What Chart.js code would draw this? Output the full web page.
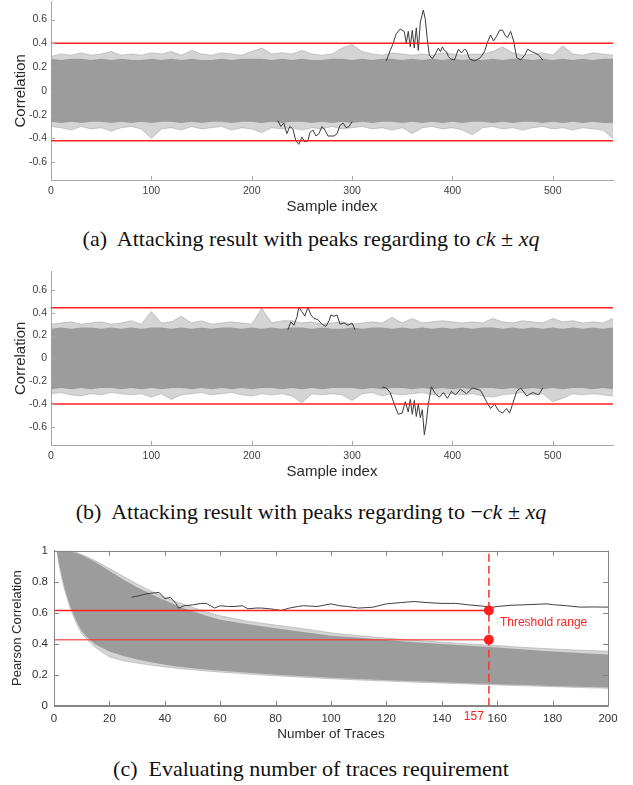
<!DOCTYPE html>
<html>
<head>
<meta charset="utf-8">
<script src="https://cdn.jsdelivr.net/npm/chart.js@4.4.1/dist/chart.umd.min.js"></script>
<style>
  html, body { margin: 0; padding: 0; background: #fff; }
  body { position: relative; width: 633px; height: 785px; overflow: hidden; }
  canvas { position: absolute; left: 0; }
  .cap {
    position: absolute; left: 0; width: 622px; text-align: center;
    font-family: "Liberation Serif", "Times New Roman", serif; font-size: 22px;
    line-height: 24px; color: #111; white-space: nowrap;
  }
</style>
</head>
<body>
<canvas id="chart-a" width="633" height="225" style="top:0"></canvas>
<div class="cap" style="top:227px">(a)&nbsp; Attacking result with peaks regarding to <i>ck</i> ± <i>xq</i></div>
<canvas id="chart-b" width="633" height="225" style="top:265px"></canvas>
<div class="cap" style="top:500px">(b)&nbsp; Attacking result with peaks regarding to −<i>ck</i> ± <i>xq</i></div>
<canvas id="chart-c" width="633" height="225" style="top:530px"></canvas>
<div class="cap" style="top:757px">(c)&nbsp; Evaluating number of traces requirement</div>

<script>
// ---- (a) / (b): correlation over sample index ----
const sampleX = [0, 10, 20, 30, 40, 50, 60, 70, 80, 90,
    100, 110, 120, 130, 140, 150, 160, 170, 180, 190,
    200, 210, 220, 230, 240, 250, 260, 270, 280, 290,
    300, 310, 320, 330, 340, 350, 360, 370, 380, 390,
    400, 410, 420, 430, 440, 450, 460, 470, 480, 490,
    500, 510, 520, 530, 540, 550, 560];
const sampleTicks = [0, 100, 200, 300, 400, 500];
const corrTicks = [-0.6, -0.4, -0.2, 0, 0.2, 0.4, 0.6];

// dense part of the wrong-key traces
const bandTopA = [0.27, 0.26, 0.27, 0.27, 0.26, 0.27, 0.26, 0.27, 0.26, 0.26,
    0.27, 0.26, 0.27, 0.26, 0.27, 0.26, 0.26, 0.27, 0.26, 0.27,
    0.27, 0.27, 0.26, 0.27, 0.26, 0.27, 0.26, 0.26, 0.27, 0.27,
    0.26, 0.27, 0.26, 0.27, 0.27, 0.26, 0.27, 0.26, 0.27, 0.26,
    0.27, 0.26, 0.27, 0.26, 0.27, 0.26, 0.27, 0.27, 0.26, 0.27,
    0.26, 0.27, 0.26, 0.27, 0.26, 0.27, 0.27];
const bandBottomA = [-0.26, -0.27, -0.26, -0.27, -0.26, -0.26, -0.27, -0.26, -0.27, -0.26,
    -0.27, -0.26, -0.26, -0.27, -0.26, -0.27, -0.26, -0.26, -0.27, -0.26,
    -0.26, -0.27, -0.26, -0.27, -0.26, -0.26, -0.27, -0.26, -0.27, -0.26,
    -0.27, -0.26, -0.27, -0.26, -0.26, -0.27, -0.26, -0.27, -0.26, -0.27,
    -0.26, -0.27, -0.26, -0.26, -0.27, -0.26, -0.27, -0.26, -0.26, -0.27,
    -0.26, -0.27, -0.26, -0.27, -0.26, -0.27, -0.27];
// sparse outer traces
const fringeTopA = [0.29, 0.31, 0.30, 0.32, 0.30, 0.31, 0.33, 0.30, 0.31, 0.30,
    0.32, 0.31, 0.33, 0.30, 0.34, 0.31, 0.30, 0.32, 0.31, 0.30,
    0.33, 0.36, 0.31, 0.32, 0.31, 0.34, 0.31, 0.30, 0.31, 0.36,
    0.39, 0.33, 0.31, 0.30, 0.32, 0.31, 0.30, 0.31, 0.30, 0.32,
    0.31, 0.30, 0.31, 0.31, 0.33, 0.37, 0.32, 0.30, 0.31, 0.32,
    0.30, 0.38, 0.31, 0.30, 0.32, 0.31, 0.30];
const fringeBottomA = [-0.30, -0.31, -0.33, -0.30, -0.32, -0.31, -0.34, -0.31, -0.30, -0.32,
    -0.40, -0.32, -0.31, -0.33, -0.30, -0.32, -0.31, -0.30, -0.33, -0.31,
    -0.32, -0.35, -0.31, -0.32, -0.31, -0.33, -0.31, -0.32, -0.30, -0.32,
    -0.31, -0.30, -0.32, -0.31, -0.33, -0.31, -0.36, -0.31, -0.30, -0.32,
    -0.31, -0.33, -0.37, -0.31, -0.30, -0.32, -0.31, -0.33, -0.31, -0.30,
    -0.32, -0.31, -0.33, -0.31, -0.32, -0.33, -0.40];
// correct-key trace, visible parts [sample, correlation]
const peakUpA = [[334, 0.25], [338, 0.34], [341, 0.40], [344, 0.48], [348, 0.52], [352, 0.50],
    [354, 0.40], [356, 0.50], [358, 0.37], [360, 0.51], [362, 0.36], [364, 0.53], [366, 0.34],
    [368, 0.58], [371, 0.68], [373, 0.60], [375, 0.43], [377, 0.30], [380, 0.27], [383, 0.31],
    [386, 0.36], [388, 0.33], [390, 0.37], [392, 0.34], [394, 0.33], [396, 0.29], [398, 0.27],
    [402, 0.26], [406, 0.35], [409, 0.32], [412, 0.35], [414, 0.34], [417, 0.27], [422, 0.25],
    [428, 0.28], [432, 0.33], [435, 0.41], [438, 0.47], [441, 0.42], [444, 0.46], [447, 0.51],
    [450, 0.51], [453, 0.46], [455, 0.45], [458, 0.50], [461, 0.42], [464, 0.28], [468, 0.26],
    [472, 0.30], [475, 0.35], [479, 0.33], [482, 0.32], [486, 0.30], [490, 0.26]];
const peakDownA = [[226, -0.25], [229, -0.30], [232, -0.27], [235, -0.36], [238, -0.30], [241, -0.32],
    [244, -0.42], [247, -0.45], [250, -0.39], [253, -0.43], [256, -0.42], [258, -0.35], [261, -0.33],
    [264, -0.38], [267, -0.36], [270, -0.30], [273, -0.33], [276, -0.38], [279, -0.38], [282, -0.38],
    [285, -0.36], [288, -0.29], [291, -0.27], [294, -0.31], [297, -0.30], [300, -0.26]];
const thresholdsA = [0.40, -0.42];

const bandTopB = [0.26, 0.27, 0.26, 0.27, 0.27, 0.26, 0.27, 0.26, 0.27, 0.26,
    0.27, 0.27, 0.26, 0.27, 0.26, 0.27, 0.26, 0.27, 0.27, 0.26,
    0.27, 0.26, 0.27, 0.26, 0.27, 0.27, 0.26, 0.27, 0.26, 0.26,
    0.27, 0.26, 0.27, 0.27, 0.26, 0.27, 0.26, 0.27, 0.26, 0.27,
    0.26, 0.27, 0.26, 0.27, 0.27, 0.26, 0.27, 0.26, 0.27, 0.26,
    0.27, 0.26, 0.27, 0.26, 0.27, 0.26, 0.27];
const bandBottomB = [-0.27, -0.26, -0.27, -0.26, -0.27, -0.26, -0.26, -0.27, -0.26, -0.27,
    -0.26, -0.27, -0.26, -0.26, -0.27, -0.26, -0.27, -0.26, -0.27, -0.26,
    -0.27, -0.26, -0.26, -0.27, -0.26, -0.27, -0.26, -0.27, -0.26, -0.26,
    -0.26, -0.27, -0.26, -0.27, -0.26, -0.26, -0.27, -0.26, -0.27, -0.26,
    -0.27, -0.26, -0.27, -0.26, -0.26, -0.27, -0.26, -0.27, -0.26, -0.27,
    -0.26, -0.27, -0.26, -0.26, -0.27, -0.26, -0.27];
const fringeTopB = [0.30, 0.31, 0.32, 0.30, 0.31, 0.32, 0.30, 0.31, 0.33, 0.30,
    0.41, 0.31, 0.32, 0.37, 0.31, 0.33, 0.30, 0.31, 0.32, 0.31,
    0.30, 0.44, 0.31, 0.33, 0.33, 0.31, 0.32, 0.30, 0.31, 0.32,
    0.30, 0.31, 0.32, 0.31, 0.36, 0.31, 0.35, 0.31, 0.32, 0.33,
    0.32, 0.31, 0.32, 0.31, 0.35, 0.32, 0.31, 0.33, 0.32, 0.31,
    0.35, 0.32, 0.33, 0.31, 0.32, 0.31, 0.35];
const fringeBottomB = [-0.31, -0.30, -0.32, -0.33, -0.31, -0.32, -0.30, -0.31, -0.32, -0.31,
    -0.34, -0.31, -0.36, -0.32, -0.31, -0.30, -0.32, -0.31, -0.30, -0.32,
    -0.33, -0.31, -0.32, -0.31, -0.33, -0.39, -0.31, -0.32, -0.31, -0.32,
    -0.37, -0.31, -0.30, -0.33, -0.31, -0.32, -0.31, -0.30, -0.32, -0.31,
    -0.31, -0.32, -0.31, -0.33, -0.34, -0.32, -0.31, -0.30, -0.32, -0.31,
    -0.38, -0.35, -0.31, -0.32, -0.31, -0.32, -0.33];
const peakUpB = [[236, 0.25], [239, 0.32], [242, 0.29], [245, 0.36], [247, 0.45], [250, 0.41],
    [253, 0.37], [256, 0.45], [259, 0.38], [262, 0.35], [266, 0.34], [270, 0.30], [274, 0.28],
    [277, 0.33], [279, 0.38], [282, 0.37], [285, 0.38], [288, 0.30], [292, 0.31], [296, 0.29],
    [300, 0.31], [303, 0.25]];
const peakDownB = [[330, -0.25], [334, -0.26], [338, -0.30], [342, -0.40], [346, -0.49], [350, -0.48],
    [353, -0.38], [356, -0.47], [358, -0.36], [360, -0.49], [362, -0.37], [364, -0.51], [366, -0.40],
    [368, -0.52], [370, -0.45], [372, -0.67], [374, -0.56], [376, -0.40], [379, -0.25], [383, -0.31],
    [387, -0.34], [391, -0.30], [395, -0.35], [399, -0.29], [403, -0.32], [408, -0.27], [414, -0.31],
    [420, -0.26], [428, -0.28], [434, -0.38], [438, -0.44], [442, -0.40], [446, -0.46], [450, -0.48],
    [454, -0.44], [457, -0.48], [460, -0.40], [464, -0.29], [468, -0.26], [474, -0.33], [480, -0.30],
    [486, -0.32], [490, -0.26]];
const thresholdsB = [0.443, -0.40];

// ---- (c): correlation vs number of traces ----
const tracesX = [1, 2, 3, 4, 5, 6, 8, 10, 12, 15, 20, 25, 30, 35, 40, 45, 50, 55, 60,
    70, 80, 90, 100, 110, 120, 130, 140, 150, 160, 170, 180, 190, 200];
const tracesTicks = [0, 20, 40, 60, 80, 100, 120, 140, 160, 180, 200];
const pearsonTicks = [0, 0.2, 0.4, 0.6, 0.8, 1];
const bandTopC = [1, 1, 1, 1, 1, 0.995, 0.985, 0.97, 0.955, 0.925, 0.87, 0.815, 0.765, 0.72, 0.68,
    0.64, 0.61, 0.58, 0.555, 0.525, 0.5, 0.475, 0.452, 0.438, 0.424, 0.41, 0.398, 0.386, 0.375,
    0.362, 0.35, 0.34, 0.33];
const bandBottomC = [1, 0.9, 0.82, 0.75, 0.69, 0.635, 0.55, 0.48, 0.44, 0.395, 0.35, 0.32, 0.298,
    0.28, 0.265, 0.252, 0.242, 0.233, 0.225, 0.212, 0.2, 0.19, 0.181, 0.173, 0.165, 0.158, 0.151,
    0.145, 0.139, 0.133, 0.127, 0.122, 0.117];
const fringeTopC = [1, 1, 1, 1, 1, 1, 0.99, 0.975, 0.96, 0.935, 0.885, 0.835, 0.785, 0.74, 0.70,
    0.665, 0.635, 0.605, 0.58, 0.545, 0.52, 0.497, 0.47, 0.452, 0.436, 0.422, 0.41, 0.398, 0.388,
    0.376, 0.366, 0.358, 0.352];
const fringeBottomC = [1, 0.89, 0.805, 0.735, 0.675, 0.62, 0.535, 0.465, 0.425, 0.375, 0.315, 0.29,
    0.275, 0.262, 0.25, 0.24, 0.232, 0.224, 0.217, 0.204, 0.193, 0.183, 0.174, 0.166, 0.159, 0.152,
    0.146, 0.14, 0.134, 0.128, 0.123, 0.117, 0.112];
const correctKeyC = [[28, 0.70], [31, 0.71], [33, 0.72], [35, 0.726], [38, 0.73], [40, 0.69],
    [42, 0.70], [44, 0.66], [45, 0.63], [47, 0.645], [50, 0.65], [53, 0.66], [55, 0.66], [58, 0.63],
    [60, 0.645], [63, 0.64], [65, 0.64], [68, 0.645], [70, 0.625], [73, 0.63], [75, 0.63],
    [78, 0.625], [80, 0.62], [82, 0.615], [85, 0.63], [88, 0.64], [90, 0.645], [95, 0.64],
    [100, 0.657], [103, 0.645], [106, 0.64], [110, 0.63], [115, 0.635], [120, 0.657], [125, 0.665],
    [130, 0.672], [135, 0.665], [140, 0.66], [145, 0.66], [150, 0.65], [155, 0.642], [158, 0.634],
    [160, 0.64], [165, 0.648], [170, 0.651], [175, 0.655], [178, 0.657], [180, 0.652], [185, 0.645],
    [190, 0.636], [195, 0.637], [200, 0.636]];
const thresholdsC = [0.615, 0.425];
const tracesNeeded = 157;

const FONT = '"Liberation Sans", Arial, Helvetica, sans-serif';
const RED = '#ff1f1f';
const BAND = 'rgb(156, 156, 156)';
const FRINGE = 'rgba(160, 160, 160, 0.45)';
const FRINGE_EDGE = 'rgba(150, 150, 150, 0.45)';
const KEY = '#3a3a3a';

function pts(xs, ys) { return xs.map((x, i) => ({ x: x, y: ys[i] })); }
function pairPts(pairs) { return pairs.map(p => ({ x: p[0], y: p[1] })); }

function hline(x0, x1, y, color, order) {
    return { data: [{ x: x0, y: y }, { x: x1, y: y }], borderColor: color, borderWidth: 1.5,
        pointRadius: 0, fill: false, order: order };
}
function band(xs, top, bottom, color, edge, order) {
    return [
        { data: pts(xs, top), borderWidth: edge ? 1 : 0, borderColor: edge, pointRadius: 0,
            fill: '+1', backgroundColor: color, order: order },
        { data: pts(xs, bottom), borderWidth: edge ? 1 : 0, borderColor: edge, pointRadius: 0,
            fill: false, order: order }
    ];
}
function trace(pairs, color, order) {
    return { data: pairPts(pairs), borderColor: color, borderWidth: 1, pointRadius: 0, fill: false, order: order };
}

function xScale(o) {
    return {
        type: 'linear', min: o.min, max: o.max,
        grid: { display: false, drawTicks: false },
        border: { display: true, color: o.axisColor, width: 1 },
        ticks: { color: o.labelColor, padding: o.tickPad, font: { family: FONT, size: o.tickSize },
            maxRotation: 0, autoSkip: false, callback: v => String(v) },
        title: { display: true, text: o.title, color: '#2a2a2a', font: { family: FONT, size: o.titleSize },
            padding: { top: 0, bottom: o.titlePad } },
        afterBuildTicks: s => { s.ticks = o.ticks.map(v => ({ value: v })); },
        afterFit: s => { s.height = o.size; s.paddingLeft = 0; s.paddingRight = 0; }
    };
}
function yScale(o) {
    return {
        type: 'linear', min: o.min, max: o.max,
        grid: { display: false, drawTicks: false },
        border: { display: true, color: o.axisColor, width: 1 },
        ticks: { color: o.labelColor, padding: o.tickPad, font: { family: FONT, size: o.tickSize },
            autoSkip: false, callback: v => String(v) },
        title: { display: true, text: o.title, color: '#2a2a2a', font: { family: FONT, size: o.titleSize },
            padding: { top: o.titlePad, bottom: 0 } },
        afterBuildTicks: s => { s.ticks = o.ticks.map(v => ({ value: v })); },
        afterFit: s => { s.width = o.size; s.paddingTop = 0; s.paddingBottom = 0; }
    };
}

// MATLAB style ticks pointing into the plot, optional full box
const frameTicks = {
    id: 'frameTicks',
    afterDatasetsDraw(chart, args, opts) {
        const { ctx, chartArea: a, scales: { x, y } } = chart;
        ctx.save();
        ctx.strokeStyle = opts.color;
        ctx.lineWidth = 1;
        ctx.beginPath();
        x.ticks.forEach(t => {
            const px = Math.round(x.getPixelForValue(t.value)) + 0.5;
            ctx.moveTo(px, a.bottom);
            ctx.lineTo(px, a.bottom - opts.length);
            if (opts.box) {
                ctx.moveTo(px, a.top);
                ctx.lineTo(px, a.top + opts.length);
            }
        });
        y.ticks.forEach(t => {
            const py = Math.round(y.getPixelForValue(t.value)) + 0.5;
            ctx.moveTo(a.left, py);
            ctx.lineTo(a.left + opts.length, py);
            if (opts.box) {
                ctx.moveTo(a.right, py);
                ctx.lineTo(a.right - opts.length, py);
            }
        });
        if (opts.box) {
            ctx.rect(Math.round(a.left) + 0.5, Math.round(a.top) + 0.5,
                Math.round(a.right - a.left), Math.round(a.bottom - a.top));
        }
        ctx.stroke();
        ctx.restore();
    }
};

// red text in (c)
const thresholdNotes = {
    id: 'thresholdNotes',
    afterDraw(chart) {
        const { ctx, scales: { x, y } } = chart;
        const px = x.getPixelForValue(tracesNeeded);
        const mid = (y.getPixelForValue(thresholdsC[0]) + y.getPixelForValue(thresholdsC[1])) / 2;
        ctx.save();
        ctx.fillStyle = RED;
        ctx.font = '12px ' + FONT;
        ctx.textBaseline = 'middle';
        ctx.textAlign = 'left';
        ctx.fillText('Threshold range', px + 11, mid - 2);
        ctx.textAlign = 'right';
        ctx.fillText(String(tracesNeeded), px - 5, y.bottom + 11);
        ctx.restore();
    }
};

function correlationChart(id, o) {
    const x0 = sampleX[0];
    const x1 = sampleX[sampleX.length - 1];
    return new Chart(document.getElementById(id), {
        type: 'line',
        data: {
            datasets: [
                hline(x0, x1, o.thresholds[0], RED, 0),
                hline(x0, x1, o.thresholds[1], RED, 0),
                trace(o.peakUp, KEY, 1),
                trace(o.peakDown, KEY, 1),
                ...band(sampleX, o.bandTop, o.bandBottom, BAND, null, 2),
                ...band(sampleX, o.fringeTop, o.fringeBottom, FRINGE, FRINGE_EDGE, 3)
            ]
        },
        options: {
            responsive: false,
            animation: false,
            layout: { padding: { left: 0, top: o.top, right: 20, bottom: 0 } },
            plugins: {
                legend: { display: false },
                tooltip: { enabled: false },
                frameTicks: { length: 4, box: false, color: '#a8a8a8' }
            },
            scales: {
                x: xScale({ min: x0, max: x1, ticks: sampleTicks, title: 'Sample index', titleSize: 15,
                    titlePad: o.titlePad, tickSize: 10.5, tickPad: 5, size: 45,
                    axisColor: '#a8a8a8', labelColor: '#404040' }),
                y: yScale({ min: -o.range, max: o.range, ticks: corrTicks, title: 'Correlation', titleSize: 15,
                    titlePad: 12, tickSize: 10.5, tickPad: 4, size: 51,
                    axisColor: '#a8a8a8', labelColor: '#404040' })
            }
        },
        plugins: [frameTicks]
    });
}

correlationChart('chart-a', {
    thresholds: thresholdsA, peakUp: peakUpA, peakDown: peakDownA,
    bandTop: bandTopA, bandBottom: bandBottomA, fringeTop: fringeTopA, fringeBottom: fringeBottomA,
    top: 1.7, range: 0.75, titlePad: 9
});

correlationChart('chart-b', {
    thresholds: thresholdsB, peakUp: peakUpB, peakDown: peakDownB,
    bandTop: bandTopB, bandBottom: bandBottomB, fringeTop: fringeTopB, fringeBottom: fringeBottomB,
    top: 6.7, range: 0.76, titlePad: 9
});

// (c)
new Chart(document.getElementById('chart-c'), {
    type: 'line',
    data: {
        datasets: [
            {
                data: thresholdsC.map(v => ({ x: tracesNeeded, y: v })),
                showLine: false, pointRadius: 5, pointBackgroundColor: RED, pointBorderWidth: 0, order: 0
            },
            hline(0, tracesNeeded, thresholdsC[0], RED, 0),
            hline(0, tracesNeeded, thresholdsC[1], 'rgba(255, 40, 40, 0.7)', 0),
            {
                data: [{ x: tracesNeeded, y: pearsonTicks[0] }, { x: tracesNeeded, y: pearsonTicks[pearsonTicks.length - 1] }],
                borderColor: '#ff3030', borderWidth: 1.5, borderDash: [8, 4], pointRadius: 0, fill: false, order: 0
            },
            trace(correctKeyC, '#404040', 1),
            ...band(tracesX, bandTopC, bandBottomC, BAND, null, 2),
            ...band(tracesX, fringeTopC, fringeBottomC, FRINGE, FRINGE_EDGE, 3)
        ]
    },
    options: {
        responsive: false,
        animation: false,
        layout: { padding: { left: 0, top: 20.7, right: 25, bottom: 0 } },
        plugins: {
            legend: { display: false },
            tooltip: { enabled: false },
            frameTicks: { length: 5, box: true, color: '#858585' }
        },
        scales: {
            x: xScale({ min: 0, max: 200, ticks: tracesTicks, title: 'Number of Traces', titleSize: 13.5,
                titlePad: 13, tickSize: 11.5, tickPad: 6, size: 49.3,
                axisColor: '#858585', labelColor: '#333333' }),
            y: yScale({ min: 0, max: 1, ticks: pearsonTicks, title: 'Pearson Correlation', titleSize: 13,
                titlePad: 10, tickSize: 11.5, tickPad: 6, size: 54,
                axisColor: '#858585', labelColor: '#333333' })
        }
    },
    plugins: [frameTicks, thresholdNotes]
});
</script>
</body>
</html>
